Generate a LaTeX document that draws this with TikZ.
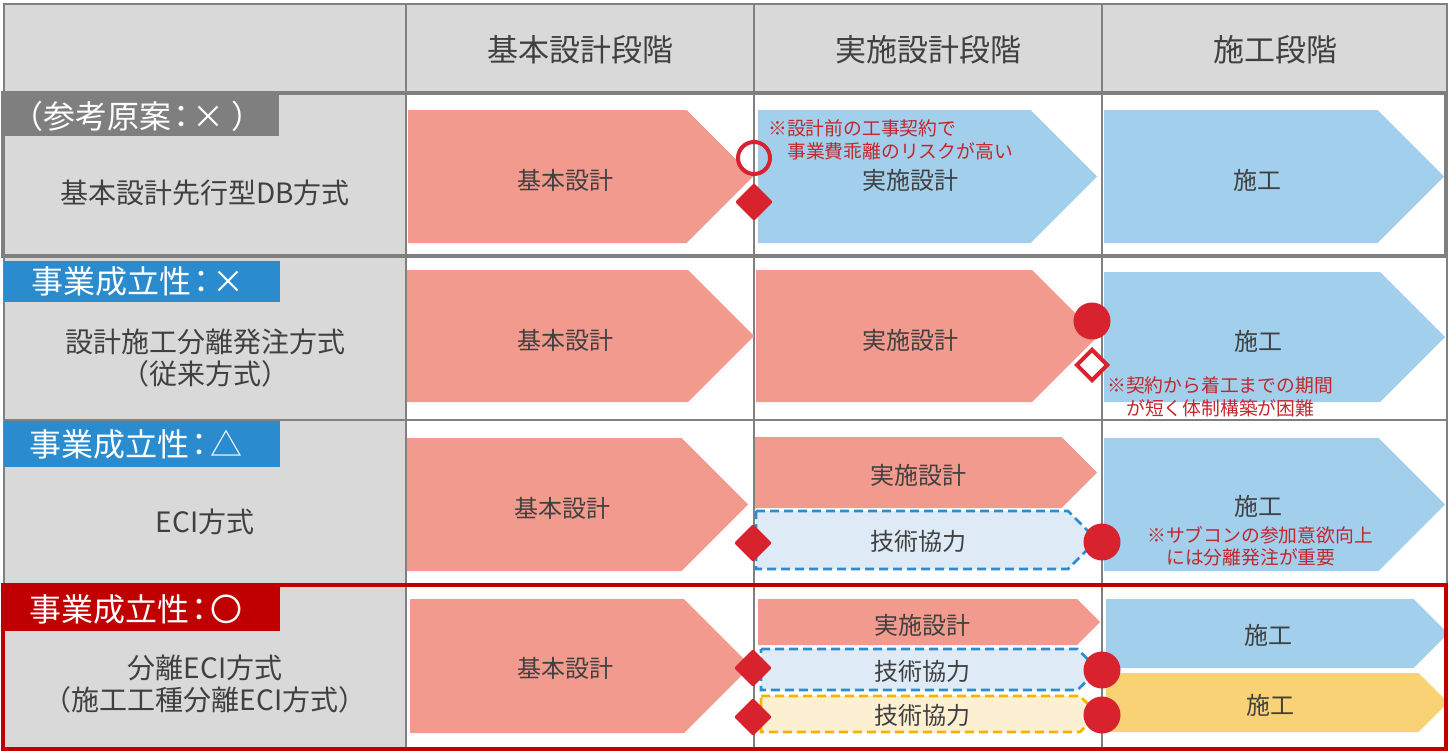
\documentclass[tikz,border=0pt]{standalone}
\usepackage{fontspec}
\setmainfont{Noto Sans CJK JP}
\usetikzlibrary{shapes.geometric}
\definecolor{gridc}{HTML}{808080}
\definecolor{cellg}{HTML}{D9D9D9}
\definecolor{txt}{HTML}{404040}
\definecolor{pinkc}{HTML}{F29A8D}
\definecolor{bluec}{HTML}{A2CFEC}
\definecolor{yelc}{HTML}{F9D276}
\definecolor{lbluec}{HTML}{DEEBF7}
\definecolor{lyelc}{HTML}{FDEFD1}
\definecolor{dblue}{HTML}{2B8DD1}
\definecolor{dyel}{HTML}{F5B300}
\definecolor{mred}{HTML}{D8232F}
\definecolor{notec}{HTML}{C1272D}
\definecolor{badgeblue}{HTML}{2A8BCF}
\definecolor{badgered}{HTML}{C00000}
\definecolor{badgegray}{HTML}{7F7F7F}
\newcommand{\chevron}[5]{%
  \path[#1] (#2,#3) -- ({#5-(#4-#3)/2},#3) -- (#5,{(#3+#4)/2}) -- ({#5-(#4-#3)/2},#4) -- (#2,#4) -- cycle;}
\newcommand{\bcolon}{\kern-6pt：\kern-5pt}
\tikzset{
  grid line/.style={draw=gridc, line width=1.2pt},
  pinkarrow/.style={fill=pinkc},
  bluearrow/.style={fill=bluec},
  yelarrow/.style={fill=yelc},
  bluedash/.style={fill=lbluec, draw=dblue, line width=2.6pt, dash pattern=on 9pt off 5pt},
  yeldash/.style={fill=lyelc, draw=dyel, line width=2.6pt, dash pattern=on 9pt off 5pt},
  hdr/.style={text=txt, font=\fontsize{31}{36}\selectfont, inner sep=0pt},
  lbl/.style={text=txt, font=\fontsize{24}{30}\selectfont, inner sep=0pt, align=center},
  side/.style={text=txt, font=\fontsize{28}{32}\selectfont, inner sep=0pt, align=center},
  badgetext/.style={text=white, font=\fontsize{32}{36}\selectfont, inner sep=0pt, anchor=west},
  note/.style={text=notec, font=\fontsize{18.8}{22}\selectfont, inner sep=0pt, anchor=west},
  fdia/.style={diamond, fill=mred, minimum size=38pt, inner sep=0pt, rounded corners=2pt},
  odia/.style={diamond, draw=mred, fill=white, line width=4pt, minimum size=32pt, inner sep=0pt},
  fcirc/.style={circle, fill=mred, minimum size=37pt, inner sep=0pt},
  ocirc/.style={circle, draw=mred, line width=4pt, minimum size=32pt, inner sep=0pt},
}
\begin{document}
\begin{tikzpicture}[x=1pt,y=-1pt]
\useasboundingbox (0,0) rectangle (1449,755);
% backgrounds
\fill[cellg] (4,4) rectangle (1447,92);
\fill[cellg] (4,92) rectangle (406,750);
% grid
\draw[grid line] (4,4) rectangle (1447,750);
\foreach \yy in {92,257,420,584} \draw[grid line] (4,\yy) -- (1447,\yy);
\foreach \xx in {406,754,1102} \draw[grid line] (\xx,4) -- (\xx,750);
% row 1 chevrons
\chevron{pinkarrow}{408}{110}{243}{753}
\chevron{bluearrow}{758}{110}{243}{1097}
\chevron{bluearrow}{1104}{110}{243}{1444}
% row 2
\chevron{pinkarrow}{407}{270}{402}{754}
\chevron{pinkarrow}{756}{270}{402}{1098}
\chevron{bluearrow}{1104}{272}{402}{1445}
% row 3
\chevron{pinkarrow}{407}{438}{571}{748}
\chevron{pinkarrow}{755}{437}{508}{1097}
\chevron{bluedash}{756}{511}{569}{1097}
\chevron{bluearrow}{1104}{438}{571}{1445}
% row 4
\chevron{pinkarrow}{410}{599}{733}{751}
\chevron{pinkarrow}{758}{599}{645}{1100}
\chevron{bluedash}{761}{649}{690}{1098}
\chevron{yeldash}{761}{696}{732}{1098}
\chevron{bluearrow}{1106}{599}{668}{1448}
\chevron{yelarrow}{1106}{673}{732}{1448}
% frames
\draw[badgegray, line width=4pt] (3,93) rectangle (1446,256);
\draw[badgered, line width=4pt] (3,585) rectangle (1446,749);
% badges
\fill[badgegray] (4,95) rectangle (279,136);
\fill[badgeblue] (4,261) rectangle (280,302);
\fill[badgeblue] (4,421) rectangle (280,467);
\fill[badgered] (4,587) rectangle (280,631);
\node[badgetext] (b1) at (11,116) {（参考原案\bcolon× ）};
\node[badgetext] (b2) at (31,281) {事業成立性\bcolon×};
\node[badgetext] (b3) at (29,444) {事業成立性\bcolon△};
\node[badgetext] (b4) at (29,609) {事業成立性\bcolon〇};
% header
\node[hdr] (h1) at (580,50) {基本設計段階};
\node[hdr] (h2) at (928,50) {実施設計段階};
\node[hdr] (h3) at (1275,50) {施工段階};
% left labels
\node[side] (l1) at (205,193) {基本設計先行型DB方式};
\node[side] (l2) at (205,358) {設計施工分離発注方式\\（従来方式）};
\node[side] (l3) at (205,522) {ECI方式};
\node[side] (l4) at (205,684) {分離ECI方式\\（施工工種分離ECI方式）};
% arrow labels
\node[lbl] (r1a) at (565,180) {基本設計};
\node[lbl] (r1b) at (910,180) {実施設計};
\node[lbl] (r1c) at (1257,180) {施工};
\node[lbl] (r2a) at (565,340) {基本設計};
\node[lbl] (r2b) at (910,340) {実施設計};
\node[lbl] (r2c) at (1258,341) {施工};
\node[lbl] (r3a) at (562,508) {基本設計};
\node[lbl] (r3b) at (918,475) {実施設計};
\node[lbl] (r3t) at (918,541) {技術協力};
\node[lbl] (r3c) at (1258,506) {施工};
\node[lbl] (r4a) at (565,668) {基本設計};
\node[lbl] (r4b) at (922,625) {実施設計};
\node[lbl] (r4t) at (922,671) {技術協力};
\node[lbl] (r4u) at (922,715) {技術協力};
\node[lbl] (r4c) at (1268,635) {施工};
\node[lbl] (r4d) at (1270,705) {施工};
% notes
\node[note] (n1a) at (768,128) {※設計前の工事契約で};
\node[note] (n1b) at (787,151) {事業費乖離のリスクが高い};
\node[note] (n2a) at (1107,385) {※契約から着工までの期間};
\node[note] (n2b) at (1126,408) {が短く体制構築が困難};
\node[note] (n3a) at (1147,535) {※サブコンの参加意欲向上};
\node[note] (n3b) at (1166,557) {には分離発注が重要};
% markers
\node[ocirc] (m1) at (754,158) {};
\node[fdia] (m2) at (754,202) {};
\node[fcirc] (m3) at (1092,321) {};
\node[odia] (m4) at (1092,365) {};
\node[fdia] (m5) at (753,543) {};
\node[fcirc] (m6) at (1102,542) {};
\node[fdia] (m7) at (753,668) {};
\node[fdia] (m8) at (753,717) {};
\node[fcirc] (m9) at (1102,670) {};
\node[fcirc] (m10) at (1102,715) {};
\end{tikzpicture}
\end{document}
